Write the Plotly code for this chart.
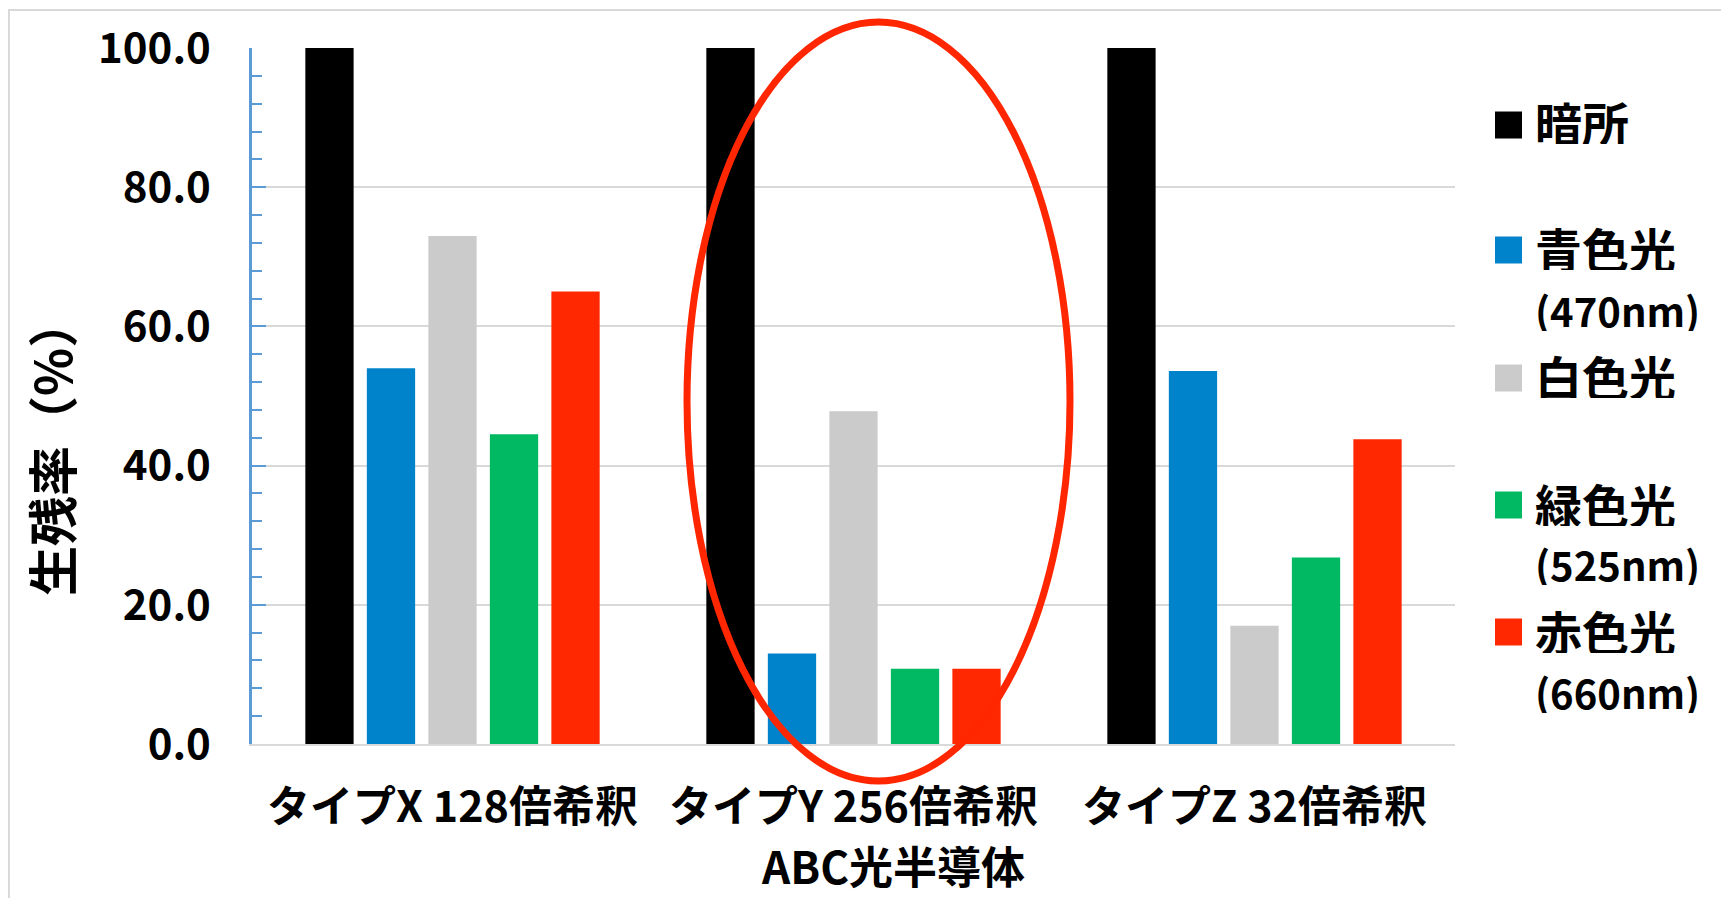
import plotly.graph_objects as go

# Survival rate (%) per dilution sample under each light condition
categories = ["タイプX 128倍希釈", "タイプY 256倍希釈", "タイプZ 32倍希釈"]
series_names = ["暗所", "青色光", "白色光", "緑色光", "赤色光"]
legend_wavelengths = ["", "(470nm)", "", "(525nm)", "(660nm)"]
dark = [100.0, 100.0, 100.0]
blue = [54.0, 13.0, 53.6]
white = [73.0, 47.8, 17.0]
green = [44.5, 10.8, 26.8]
red = [65.0, 10.8, 43.8]
series_values = [dark, blue, white, green, red]
colors = ["#000000", "#0083CA", "#CBCBCB", "#00B962", "#FF2800"]
y_ticks = [0, 20, 40, 60, 80, 100]
x_title = "ABC光半導体"
y_title = "生残率（%）"

FONT = "Noto Sans CJK JP"

fig = go.Figure()
for name, vals, col in zip(series_names, series_values, colors):
    fig.add_trace(go.Bar(x=categories, y=vals, name=name, marker=dict(color=col, line=dict(width=0)),
                         showlegend=False))

# Plot area in pixels (for placing legend / outline shapes in paper space)
W, H = 1721, 898
ML, MR, MT, MB = 252, 266, 48, 154
PW, PH = W - ML - MR, H - MT - MB


def px(xp):
    return (xp - ML) / PW


def py(yp):
    return (H - MB - yp) / PH


shapes = []
annotations = []

# Chart-area outline
shapes.append(dict(type="rect", xref="paper", yref="paper", x0=px(9), x1=px(1730), y0=py(910), y1=py(10),
                   line=dict(color="#D9D9D9", width=2), fillcolor="rgba(0,0,0,0)", layer="below"))

# Highlight ellipse around the type Y group
shapes.append(dict(type="circle", xref="paper", yref="paper", x0=px(687), x1=px(1070), y0=py(781), y1=py(22),
                   line=dict(color="#FF2600", width=7), fillcolor="rgba(0,0,0,0)", layer="above"))

# Custom legend: colour square, name line and optional wavelength line
marker_y = [125, 250, 378, 505, 632]
name_y = [121, 247, 375, 503, 630]
wave_y = [None, 310, None, 564, 692]
for name, wl, col, my, ny, wy in zip(series_names, legend_wavelengths, colors, marker_y, name_y, wave_y):
    shapes.append(dict(type="rect", xref="paper", yref="paper", x0=px(1495), x1=px(1522),
                       y0=py(my + 13.5), y1=py(my - 13.5), fillcolor=col, line=dict(width=0)))
    annotations.append(dict(xref="paper", yref="paper", x=px(1534), y=py(ny), text=name, showarrow=False,
                            xanchor="left", yanchor="middle", align="left", borderpad=0, height=46,
                            font=dict(family=FONT, size=47, color="#000000", weight=700)))
    if wl:
        annotations.append(dict(xref="paper", yref="paper", x=px(1534), y=py(wy), text=wl, showarrow=False,
                                xanchor="left", yanchor="middle", align="left", borderpad=0, height=42,
                                font=dict(family=FONT, size=40, color="#000000", weight=700)))

# Axis titles
annotations.append(dict(xref="paper", yref="paper", x=px(893), y=py(865), text=x_title, showarrow=False,
                        xanchor="center", yanchor="middle", borderpad=0,
                        font=dict(family=FONT, size=44, color="#000000", weight=700)))
annotations.append(dict(xref="paper", yref="paper", x=px(50), y=py(447), text=y_title, showarrow=False,
                        textangle=-90, xanchor="center", yanchor="middle", borderpad=0,
                        font=dict(family=FONT, size=50, color="#000000", weight=700)))

fig.update_layout(
    width=W, height=H,
    margin=dict(l=ML, r=MR, t=MT, b=MB),
    paper_bgcolor="white", plot_bgcolor="white",
    barmode="group", bargap=0.233, bargroupgap=0.215,
    font=dict(family=FONT, color="#000000", weight=700),
    shapes=shapes, annotations=annotations,
    xaxis=dict(
        type="category",
        showline=True, linecolor="#D9D9D9", linewidth=2,
        showgrid=False, ticks="",
        tickfont=dict(family=FONT, size=43, weight=700),
        ticklabelstandoff=24,
    ),
    yaxis=dict(
        range=[0, 100], tickvals=y_ticks, tickformat=".1f",
        showline=True, linecolor="#5B9BD5", linewidth=2.5,
        ticks="inside", ticklen=14, tickwidth=2, tickcolor="#5B9BD5",
        minor=dict(dtick=4, ticks="inside", ticklen=10, tickwidth=2, tickcolor="#5B9BD5", showgrid=False),
        showgrid=True, gridcolor="#D9D9D9", gridwidth=2,
        zeroline=False,
        tickfont=dict(family=FONT, size=42, weight=700),
        ticklabelstandoff=30,
    ),
)

fig.write_html("out.html")
